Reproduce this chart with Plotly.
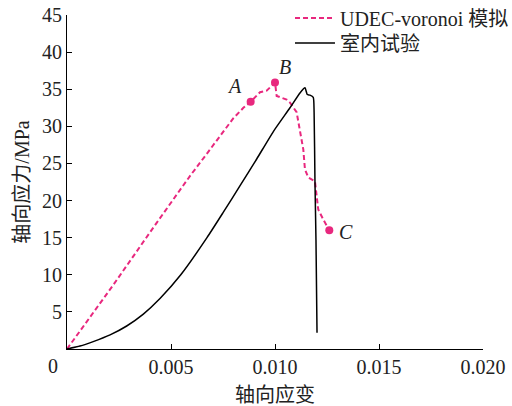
import plotly.graph_objects as go

# UDEC-voronoi simulation: axial strain vs axial stress (MPa)
sim_strain = [0.0, 0.00223, 0.00431, 0.00471, 0.00591, 0.00672, 0.00751, 0.0080, 0.00848,
              0.00883, 0.00928, 0.0096, 0.0100, 0.01008, 0.01056, 0.01072, 0.01104,
              0.0112, 0.01136, 0.01144, 0.0116, 0.01192, 0.01208, 0.01233, 0.01261]
sim_stress = [0.0, 8.65, 17.0, 18.6, 23.3, 26.3, 29.2, 31.1, 32.5,
              33.3, 34.6, 34.8, 35.9, 34.1, 33.6, 33.2, 31.9,
              29.6, 26.9, 24.2, 23.1, 22.6, 18.8, 17.4, 16.0]

# Laboratory test curve
lab_strain = [0.0, 0.000625, 0.00126, 0.00207, 0.00287, 0.00367, 0.00447, 0.00547,
              0.00673, 0.00751, 0.00832, 0.00912, 0.00992, 0.01072, 0.0112,
              0.01144, 0.01155, 0.01168, 0.01184, 0.01188, 0.01192, 0.01197, 0.01202]
lab_stress = [0.0, 0.4, 1.0, 1.9, 3.1, 4.7, 6.8, 10.0,
              15.0, 18.4, 22.0, 25.6, 29.3, 32.5, 34.5,
              35.2, 34.3, 34.2, 33.9, 31.9, 22.8, 14.7, 2.2]

# Marked states on the simulated curve
pt_labels = ["A", "B", "C"]
pt_strain = [0.00883, 0.0100, 0.01261]
pt_stress = [33.3, 35.9, 16.0]

x_ticks = [0, 0.005, 0.010, 0.015, 0.020]
x_ticktext = ["", "0.005", "0.010", "0.015", "0.020"]
y_ticks = [0, 5, 10, 15, 20, 25, 30, 35, 40, 45]
y_ticktext = [""] + [str(v) for v in y_ticks[1:]]

PINK = "#E8287E"
INK = "#222222"
FONT = "Liberation Serif, Times New Roman, Noto Sans CJK SC, serif"
FS = 20

fig = go.Figure()
fig.add_trace(go.Scatter(
    x=sim_strain, y=sim_stress, mode="lines", name="UDEC-voronoi 模拟",
    line=dict(color=PINK, width=2, dash="5px,3px"), legend="legend",
))
fig.add_trace(go.Scatter(
    x=lab_strain, y=lab_stress, mode="lines", name="室内试验",
    line=dict(color="black", width=1.5, shape="spline", smoothing=0.5),
    legend="legend2",
))
fig.add_trace(go.Scatter(
    x=pt_strain, y=pt_stress, mode="markers", showlegend=False,
    marker=dict(color=PINK, size=8),
))

label_shift = {"A": (-16, 16), "B": (10, 16), "C": (17, -2)}
for lab, xv, yv in zip(pt_labels, pt_strain, pt_stress):
    dx, dy = label_shift[lab]
    fig.add_annotation(x=xv, y=yv, text="<i>" + lab + "</i>", showarrow=False,
                       xshift=dx, yshift=dy,
                       font=dict(family=FONT, size=FS, color=INK),
                       xanchor="center", yanchor="middle")

# shared origin label
fig.add_annotation(x=0, y=0, xref="x", yref="y", text="0", showarrow=False,
                   xshift=-14, yshift=-17, font=dict(family=FONT, size=FS, color=INK),
                   xanchor="center", yanchor="middle")

legend_common = dict(xanchor="left", yanchor="middle", bgcolor="rgba(0,0,0,0)",
                     font=dict(family=FONT, size=FS, color=INK), itemwidth=40)
fig.update_layout(
    width=512, height=406,
    margin=dict(l=67, r=29, t=5, b=57, autoexpand=False),
    paper_bgcolor="white", plot_bgcolor="white",
    font=dict(family=FONT, size=FS, color=INK),
    legend=dict(x=0.536, y=0.962, **legend_common),
    legend2=dict(x=0.536, y=0.8895, **legend_common),
    showlegend=True,
)
fig.update_xaxes(
    range=[0, 0.02], tickvals=x_ticks, ticktext=x_ticktext, automargin=False,
    showline=True, linecolor="black", linewidth=1.2, mirror=False,
    ticks="inside", ticklen=5, tickcolor="black", showgrid=False, zeroline=False,
    title=dict(text="轴向应变", font=dict(size=FS), standoff=11),
)
fig.update_yaxes(
    range=[0, 45], domain=[0, 0.9709], tickvals=y_ticks, ticktext=y_ticktext,
    automargin=False,
    showline=True, linecolor="black", linewidth=1.2, mirror=False,
    ticks="inside", ticklen=5, tickcolor="black", showgrid=False, zeroline=False,
    title=dict(text="轴向应力/MPa", font=dict(size=FS), standoff=6),
)

fig.write_html("out.html")
